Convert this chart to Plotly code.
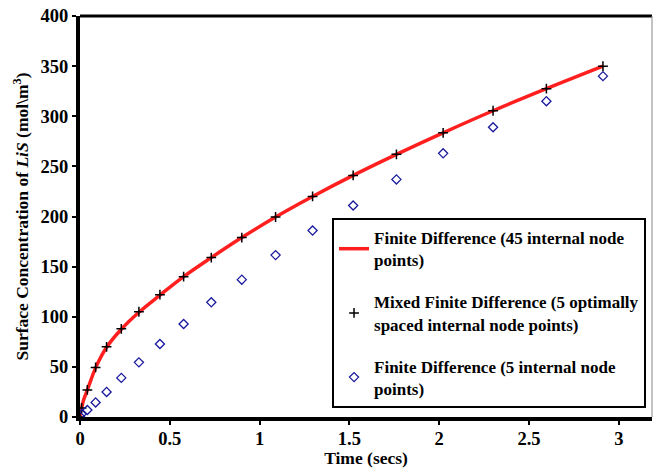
import plotly.graph_objects as go

# Mixed finite difference (5 optimally spaced nodes)
t_mixed = [0.0, 0.009, 0.041, 0.087, 0.148, 0.23, 0.328, 0.445, 0.577, 0.731, 0.901,
           1.089, 1.295, 1.521, 1.762, 2.022, 2.30, 2.597, 2.912]
c_mixed = [0.0, 9.0, 27.0, 49.5, 70.0, 88.0, 105.0, 122.0, 140.0, 159.0, 179.0,
           199.5, 220.0, 241.0, 262.0, 283.5, 305.5, 327.5, 350.0]

# Finite difference with 45 internal nodes (curve)
t_fd45 = [0.0, 0.003, 0.009, 0.02, 0.041, 0.087, 0.148, 0.23, 0.328, 0.445, 0.577,
          0.731, 0.901, 1.089, 1.295, 1.521, 1.762, 2.022, 2.30, 2.597, 2.912]
c_fd45 = [0.0, 5.0, 9.0, 17.0, 27.0, 49.0, 69.5, 87.5, 104.5, 121.5, 140.0,
          159.0, 179.0, 199.5, 220.0, 241.0, 262.0, 283.5, 305.5, 327.5, 350.0]

# Finite difference with 5 internal nodes
t_fd5 = [0.0, 0.009, 0.041, 0.087, 0.148, 0.23, 0.328, 0.445, 0.577, 0.731, 0.901,
         1.089, 1.295, 1.521, 1.762, 2.022, 2.30, 2.597, 2.912]
c_fd5 = [0.5, 3.0, 7.0, 14.5, 25.0, 39.0, 54.5, 72.8, 92.8, 114.4, 137.0,
         161.5, 186.0, 211.0, 237.0, 263.0, 289.0, 315.0, 340.0]

x_ticks = [0, 0.5, 1, 1.5, 2, 2.5, 3]
y_ticks = [0, 50, 100, 150, 200, 250, 300, 350, 400]

FONT = "Liberation Serif"

fig = go.Figure()
fig.add_trace(go.Scatter(
    x=t_fd45, y=c_fd45, mode="lines", line=dict(color="#ff1f1f", width=3.5, shape="spline"),
    name="<b>Finite Difference (45 internal node<br>points)</b>", legendgroup="a"))
fig.add_trace(go.Scatter(
    x=t_mixed, y=c_mixed, mode="markers",
    marker=dict(symbol="cross-thin", size=7, line=dict(color="black", width=1.5), color="black"),
    name="<b>Mixed Finite Difference (5 optimally<br>spaced internal node points)</b>", legendgroup="b"))
fig.add_trace(go.Scatter(
    x=t_fd5, y=c_fd5, mode="markers",
    marker=dict(symbol="diamond-open", size=7, color="#1a1a9c", line=dict(width=1.3, color="#1a1a9c")),
    name="<b>Finite Difference (5 internal node<br>points)</b>", legendgroup="c"))

fig.update_layout(
    width=653, height=468,
    margin=dict(l=80, r=1, t=16, b=51, autoexpand=False),
    paper_bgcolor="white", plot_bgcolor="white",
    font=dict(family=FONT, size=17, color="black"),
    showlegend=True,
    legend=dict(
        x=0.4406, y=0.496, xanchor="left", yanchor="top",
        bgcolor="white", bordercolor="black", borderwidth=2,
        font=dict(family=FONT, size=17, color="black"),
        tracegroupgap=17, itemwidth=30,
    ),
    xaxis=dict(
        range=[0, 3.185], tickvals=x_ticks, ticktext=["<b>%s</b>" % v for v in x_ticks],
        showgrid=False, zeroline=False, showline=True, linecolor="black", linewidth=4,
        ticks="outside", ticklen=4, tickwidth=2, tickcolor="black", automargin=False,
        tickfont=dict(family=FONT, size=18.5), ticklabelstandoff=-2,
        title=dict(text="<b>Time (secs)</b>", font=dict(family=FONT, size=17.5), standoff=4),
    ),
    yaxis=dict(
        range=[0, 400], tickvals=y_ticks, ticktext=["<b>%d</b>" % v for v in y_ticks],
        showgrid=False, zeroline=False, showline=True, linecolor="black", linewidth=4,
        ticks="outside", ticklen=4, tickwidth=2, tickcolor="black", automargin=False,
        tickfont=dict(family=FONT, size=18.5), ticklabeloverflow="allow",
        title=dict(text="<b>Surface Concentration of <i>LiS</i> (mol\\m<sup>3</sup>)</b>",
                   font=dict(family=FONT, size=17.5), standoff=8),
    ),
)

# top border (thick) and right border (thin grey)
fig.add_shape(type="line", xref="paper", yref="paper", x0=0, x1=1, y0=1, y1=1,
              line=dict(color="black", width=3))
fig.add_shape(type="line", xref="paper", yref="paper", x0=1, x1=1, y0=0, y1=1,
              line=dict(color="#888888", width=1))

# remove the browser's default body margin so the figure fills the window
fig.write_html("out.html", config={"displayModeBar": False},
               post_script="document.body.style.margin='0';")
